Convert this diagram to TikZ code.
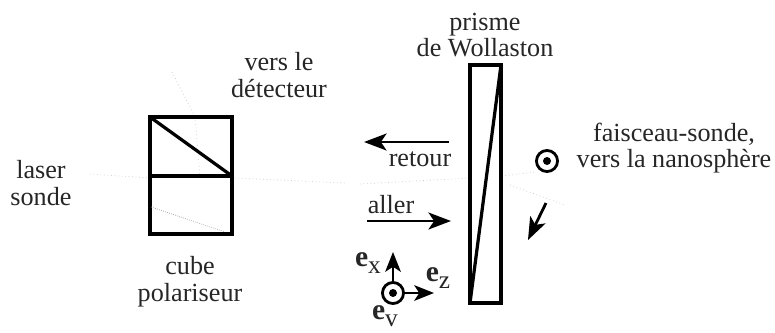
\documentclass[tikz,border=0pt]{standalone}
\usepackage{amsfonts,amsmath,amssymb}
\usepackage{fontspec}
\setmainfont{Liberation Serif}
\usepackage{xcolor}
\usetikzlibrary{arrows.meta, positioning}
\newcommand{\vecbase}[2]{{\fontsize{21}{22}\selectfont\bfseries #1}\raisebox{-5pt}{\fontsize{18}{20}\selectfont #2}}
\tikzset{
  label/.style={font=\fontsize{18.6}{21}\selectfont, align=center, inner sep=0pt, text=black!85},
  vecname/.style={inner sep=0pt, text=black!85},
  wall/.style={line width=2.3pt, black},
  fleche/.style={line width=2pt, black, -{Stealth[length=16pt,width=12pt,inset=4pt]}},
  petite/.style={line width=2pt, black, -{Stealth[length=14pt,width=11pt,inset=3.5pt]}},
  trace/.style={line width=0.5pt, black!22, dotted},
  sortant/.style={circle, draw=black, line width=2pt, minimum size=15pt, inner sep=0pt}
}
\begin{document}
\begin{tikzpicture}[x=0.025cm,y=-0.025cm]
        \useasboundingbox (0,0) rectangle (775,332);
        % Traces du faisceau
        \draw[trace] (90,174) -- (150,178);
        \draw[trace] (235,178) -- (345,183);
        \draw[trace] (360,184) -- (470,178);
        \draw[trace] (502,176) -- (535,172);
        \draw[trace] (172,72) -- (195,117);
        \draw[trace] (195,117) -- (200,176);
        \draw[trace] (510,185) -- (565,205);
        % Cube polariseur
        \coordinate (cubeNO) at (150,117);
        \coordinate (cubeNE) at (232,117);
        \coordinate (cubeO) at (150,176);
        \coordinate (cubeE) at (232,176);
        \coordinate (cubeSO) at (150,234);
        \coordinate (cubeSE) at (232,234);
        \draw[wall] (cubeNO) rectangle (cubeSE);
        \draw[wall] (cubeO) -- (cubeE);
        \draw[wall] (cubeNO) -- (cubeE);
        \draw[line width=0.5pt, black!40, densely dotted] (151,207) -- (225,232);
        % Prisme
        \coordinate (prismeNO) at (470,65);
        \coordinate (prismeNE) at (501,65);
        \coordinate (prismeSO) at (470,303);
        \coordinate (prismeSE) at (501,303);
        \draw[wall] (prismeNO) rectangle (prismeSE);
        \draw[wall] (prismeNE) -- (prismeSO);
        % Fleches
        \coordinate (retourA) at (449,142);
        \coordinate (retourB) at (364,142);
        \coordinate (allerA) at (367,221);
        \coordinate (allerB) at (451,221);
        \draw[fleche] (retourA) -- (retourB);
        \draw[fleche] (allerA) -- (allerB);
        \coordinate (sondeA) at (546,203);
        \coordinate (sondeB) at (528,240);
        \draw[fleche] (sondeA) -- (sondeB);
        % Faisceau sortant
        \node[sortant] (sonde) at (547,161) {};
        \fill[black] (sonde) circle (4);
        % Repere
        \node[sortant] (origine) at (393,293) {};
        \fill[black] (origine) circle (4);
        \coordinate (axeX) at (393,252);
        \coordinate (axeZ) at (434,293);
        \draw[petite] (origine) -- (axeX);
        \draw[petite] (origine) -- (axeZ);
        % Textes
        \node[label] (prisme) at (485,35) {prisme\\[-2pt]de Wollaston};
        \node[label] (detecteur) at (279,75) {vers le\\[-2pt]détecteur};
        \node[label] (laser) at (41,183) {laser\\[-2pt]sonde};
        \node[label] (cube) at (190,282) {cube\\[-2pt]polariseur};
        \node[label] (faisceau) at (674,148) {faisceau-sonde,\\[-2pt]vers la nanosphère};
        \node[label] (retour) at (420,159) {retour};
        \node[label] (aller) at (391,205) {aller};
        \node[vecname] (ex) at (368,263) {\vecbase{e}{x}};
        \node[vecname] (ez) at (438,278) {\vecbase{e}{z}};
        \node[vecname] (ey) at (385,316) {\vecbase{e}{v}};
    \end{tikzpicture}
\end{document}
